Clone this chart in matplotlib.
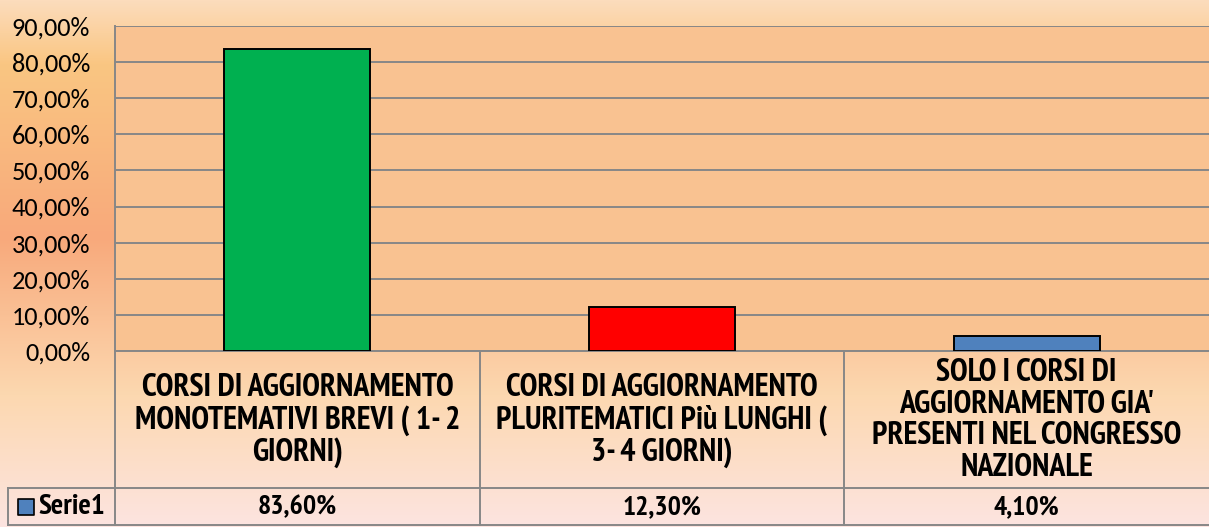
import numpy as np
import matplotlib.pyplot as plt
from matplotlib.colors import LinearSegmentedColormap

# data
categories = [
    "CORSI DI AGGIORNAMENTO\nMONOTEMATIVI BREVI ( 1- 2\nGIORNI)",
    "CORSI DI AGGIORNAMENTO\nPLURITEMATICI Più LUNGHI (\n3- 4 GIORNI)",
    "SOLO I CORSI DI\nAGGIORNAMENTO GIA'\nPRESENTI NEL CONGRESSO\nNAZIONALE",
]
values = [83.6, 12.3, 4.1]
value_labels = ["83,60%", "12,30%", "4,10%"]
series_name = "Serie1"
bar_colors = ["#00B050", "#FF0000", "#4F81BD"]
yticks = np.arange(0, 91, 10)

plt.rcParams["font.family"] = ["Carlito", "DejaVu Sans"]
bold_font = ["PT Sans Narrow", "DejaVu Sans"]

W, H = 1209, 527
fig = plt.figure(figsize=(W / 100, H / 100), dpi=100)

# background gradient
bg = fig.add_axes([0, 0, 1, 1], zorder=0)
cmap = LinearSegmentedColormap.from_list("bg", [
    (0.0, "#FCDCBC"), (0.12, "#FAC682"), (0.45, "#F8A97B"),
    (0.75, "#FCD8B0"), (1.0, "#FDE4E0")])
grad = np.linspace(0, 1, 256).reshape(-1, 1)
bg.imshow(grad, aspect="auto", cmap=cmap, extent=[0, 1, 0, 1], origin="upper")
bg.axis("off")

def px(l, t, r, b):
    return [l / W, 1 - b / H, (r - l) / W, (b - t) / H]

gray = "#878787"

# bar area
ax = fig.add_axes(px(115, 26, 1209, 351), zorder=2)
ax.set_facecolor("#F9C291")
x = np.arange(len(values))
ax.bar(x, values, width=0.4, color=bar_colors, edgecolor="black", linewidth=1.4, zorder=3)
ax.set_xlim(-0.5, len(values) - 0.5)
ax.set_ylim(0, 90)
ax.set_yticks(yticks)
ax.set_yticklabels([f"{v},00%" for v in yticks], fontsize=19)
ax.tick_params(axis="y", length=0, pad=18)
ax.tick_params(axis="x", length=0, labelbottom=False)
ax.grid(axis="y", color=gray, linewidth=1.4, zorder=1)
for s in ["top", "right"]:
    ax.spines[s].set_visible(False)
for s in ["left", "bottom"]:
    ax.spines[s].set_color(gray)
    ax.spines[s].set_linewidth(1.4)

# data table below
tb = fig.add_axes(px(115, 351, 1209, 525), zorder=2)
tb.set_xlim(-0.5, len(values) - 0.5)
tb.set_ylim(0, 174)
tb.axis("off")
row_y = 37  # boundary between category row and value row
left = -0.5 - 107 / 365
for i in range(len(values)):
    tb.plot([i - 0.5, i - 0.5], [0, 174], color=gray, lw=1.4, clip_on=False)
tb.plot([left, len(values) - 0.5], [row_y, row_y], color=gray, lw=1.4, clip_on=False)
tb.plot([left, len(values) - 0.5], [0, 0], color=gray, lw=1.4, clip_on=False)
tb.plot([left, left], [0, row_y], color=gray, lw=1.4, clip_on=False)
for i, (c, v) in enumerate(zip(categories, value_labels)):
    tb.text(i, (174 + row_y) / 2 - 1, c, ha="center", va="center", fontsize=23,
            fontweight="bold", family=bold_font, linespacing=1.07)
    tb.text(i, row_y / 2 - 1, v, ha="center", va="center", fontsize=20,
            fontweight="bold", family=bold_font)
tb.text(-0.5 - 10 / 365, row_y / 2 - 1, series_name, ha="right", va="center", fontsize=21,
        fontweight="bold", family=bold_font)
tb.scatter([-0.5 - 89 / 365], [row_y / 2], marker="s", s=135, color="#4F81BD",
           edgecolor="black", linewidth=1.2, clip_on=False, zorder=3)

fig.savefig("out.png", dpi=100)
